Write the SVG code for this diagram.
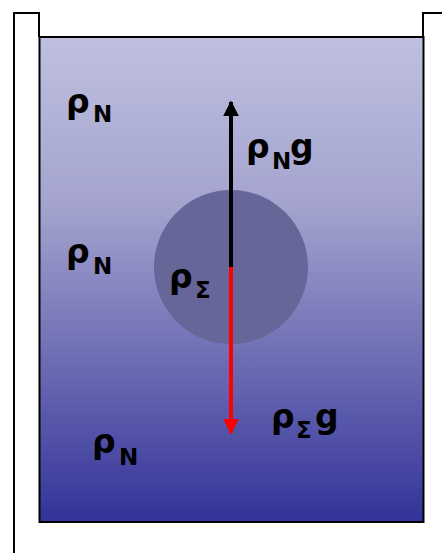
<svg xmlns="http://www.w3.org/2000/svg" width="442" height="553" viewBox="0 0 442 553">
<defs>
<linearGradient id="liq" x1="0" y1="0" x2="0" y2="1">
<stop offset="0" stop-color="#BFC0E0"/>
<stop offset="0.35" stop-color="#A3A3CE"/>
<stop offset="1" stop-color="#333399"/>
</linearGradient>
<marker id="hb" viewBox="0 0 10 10" refX="9" refY="5" markerWidth="4" markerHeight="4" orient="auto" markerUnits="strokeWidth"><path d="M0,0 L10,5 L0,10 z" fill="#000"/></marker>
<marker id="hr" viewBox="0 0 10 10" refX="9" refY="5" markerWidth="4" markerHeight="4" orient="auto" markerUnits="strokeWidth"><path d="M0,0 L10,5 L0,10 z" fill="#FF0000"/></marker>
</defs>
<style>
.t{font-family:"DejaVu Sans","Liberation Sans",sans-serif;font-weight:bold;font-size:33px;fill:#000}
.s{font-size:23px}
.w{fill:none;stroke:#000;stroke-width:2}
</style>
<rect width="442" height="553" fill="#fff"/>
<g id="container">
<path class="w" d="M14,553 V13 H39 V37"/>
<path class="w" d="M442,13 H423 V37"/>
<rect x="39.5" y="37" width="384" height="485" fill="url(#liq)" stroke="#000" stroke-width="2"/>
</g>
<g id="sphere">
<circle cx="231" cy="267" r="77" fill="#666699"/>
</g>
<g id="connectors">
<line x1="231" y1="268" x2="231" y2="102" stroke="#000" stroke-width="4" marker-end="url(#hb)"/>
<line x1="231" y1="267" x2="231" y2="433" stroke="#FF0000" stroke-width="4" marker-end="url(#hr)"/>
</g>
<g id="labels">
<text class="t"><tspan x="66" y="113">ρ</tspan><tspan class="s" x="93" y="122">N</tspan></text>
<text class="t"><tspan x="66" y="263">ρ</tspan><tspan class="s" x="93" y="274">N</tspan></text>
<text class="t"><tspan x="92" y="453">ρ</tspan><tspan class="s" x="119" y="465">N</tspan></text>
<text class="t"><tspan x="246" y="158">ρ</tspan><tspan class="s" x="272" y="169">N</tspan><tspan x="290" y="158">g</tspan></text>
<text class="t"><tspan x="169" y="288">ρ</tspan><tspan class="s" x="195" y="298">Σ</tspan></text>
<text class="t"><tspan x="271" y="428">ρ</tspan><tspan class="s" x="296" y="438">Σ</tspan><tspan x="315" y="428">g</tspan></text>
</g>
</svg>
